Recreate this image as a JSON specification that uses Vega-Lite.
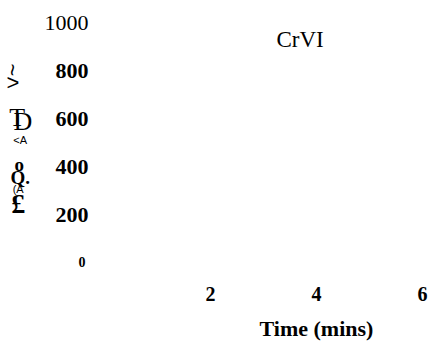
{
  "$schema": "https://vega.github.io/schema/vega-lite/v6.json",
  "autosize": {"type": "none"},
  "padding": {"left": 104, "top": 22, "right": 0, "bottom": 82},
  "width": 326,
  "height": 240,
  "background": "white",
  "config": {"view": {"stroke": null}},
  "datasets": {
    "glyphs": [
      {"label": "~", "t": -1.74, "v": 800, "grp": "tilde"},
      {"label": ">", "t": -1.72, "v": 746, "grp": "sans"},
      {"label": "T", "t": -1.64, "v": 600, "grp": "big"},
      {"label": "D", "t": -1.53, "v": 583, "grp": "big"},
      {"label": "<A", "t": -1.58, "v": 504, "grp": "small"},
      {"label": "o", "t": -1.60, "v": 405, "grp": "mid"},
      {"label": "Q.", "t": -1.58, "v": 350, "grp": "mid"},
      {"label": "(A", "t": -1.62, "v": 300, "grp": "small"},
      {"label": "£", "t": -1.62, "v": 237, "grp": "pound"},
      {"label": "CrVI", "t": 3.7, "v": 925, "grp": "anno"}
    ]
  },
  "data": {"name": "glyphs"},
  "encoding": {
    "x": {
      "field": "t", "type": "quantitative",
      "scale": {"domain": [0, 6.15], "nice": false, "zero": false},
      "axis": {
        "values": [2, 4, 6],
        "domain": false, "ticks": false, "tickSize": 0, "grid": false,
        "labelFont": "Liberation Serif", "labelFontWeight": "bold", "labelFontSize": 20,
        "labelColor": "black", "labelPadding": 22, "labelBaseline": "top",
        "title": "Time (mins)",
        "titleFont": "Liberation Serif", "titleFontWeight": "bold", "titleFontSize": 22,
        "titleColor": "black", "titlePadding": 14, "titleX": 212, "titleAlign": "center"
      }
    },
    "y": {
      "field": "v", "type": "quantitative",
      "scale": {"domain": [0, 1000], "nice": false},
      "axis": {
        "values": [0, 200, 400, 600, 800, 1000],
        "format": "d",
        "domain": false, "ticks": false, "tickSize": 0, "grid": false,
        "labelFont": "Liberation Serif",
        "labelFontWeight": {"condition": {"test": "datum.value == 1000", "value": "normal"}, "value": "bold"},
        "labelFontSize": {"condition": {"test": "datum.value == 0", "value": 14}, "value": 22},
        "labelPadding": {"condition": {"test": "datum.value == 0", "value": 19}, "value": 16},
        "labelColor": "black",
        "title": null
      }
    },
    "text": {"field": "label"}
  },
  "layer": [
    {
      "transform": [{"filter": "datum.grp == 'anno'"}],
      "mark": {"type": "text", "font": "Liberation Serif", "fontSize": 23, "color": "black"}
    },
    {
      "transform": [{"filter": "datum.grp == 'big'"}],
      "mark": {"type": "text", "font": "Liberation Serif", "fontSize": 26, "color": "black"}
    },
    {
      "transform": [{"filter": "datum.grp == 'pound'"}],
      "mark": {"type": "text", "font": "Liberation Serif", "fontWeight": "bold", "fontSize": 28, "color": "black"}
    },
    {
      "transform": [{"filter": "datum.grp == 'mid'"}],
      "mark": {"type": "text", "font": "Liberation Serif", "fontWeight": "bold", "fontSize": 19, "color": "black"}
    },
    {
      "transform": [{"filter": "datum.grp == 'small'"}],
      "mark": {"type": "text", "font": "Liberation Sans", "fontSize": 11, "color": "black"}
    },
    {
      "transform": [{"filter": "datum.grp == 'sans'"}],
      "mark": {"type": "text", "font": "Liberation Sans", "fontSize": 22, "color": "black"}
    },
    {
      "transform": [{"filter": "datum.grp == 'tilde'"}],
      "mark": {"type": "text", "font": "Liberation Sans", "fontSize": 22, "angle": 90, "color": "black"}
    }
  ]
}
